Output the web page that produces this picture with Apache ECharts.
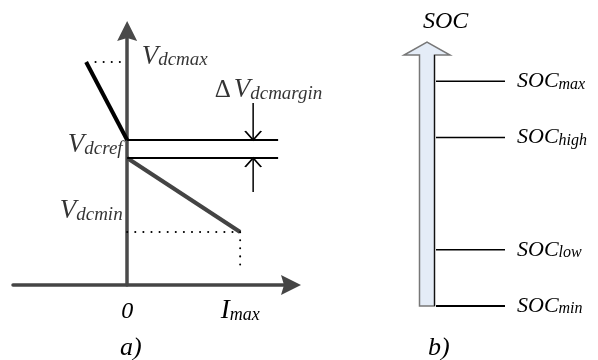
<!DOCTYPE html>
<html><head><meta charset="utf-8">
<script src="https://cdn.jsdelivr.net/npm/echarts@6/dist/echarts.min.js"></script>
<style>html,body{margin:0;padding:0;background:#fff}#c{width:598px;height:360px}</style>
</head><body><div id="c"></div>
<script>
// ---- Panel a) droop characteristic (x: current, normalised to Imax; y: DC voltage, normalised to Vdcref)
const V_DCMAX = 1.756;
const V_MARGIN_TOP = 1.142;      // Vdcref + ΔVdcmargin
const V_DCREF = 1.0;
const V_DCMIN = 0.417;
const I_MAX = 1.0;
const I_AT_VDCMAX = -0.363;
const DOT_START_X = -0.28;
const REF_LINE_END_X = 1.336;
const DIM_X = 1.115;
const DIM_TOP = 1.433;
const DIM_BOTTOM = 0.732;
const IMAX_DOT_BOTTOM = 0.10;
const xTickValues = [0, 1];
const xTickLabels = ['{z|0}', '{v|I}{s|max}'];
// ---- Panel b) SOC levels (scale is schematic)
const socNames = ['max', 'high', 'low', 'min'];
const socValues = [90, 70, 30, 10];
const SOC_AXIS_BOTTOM = 10;
const SOC_AXIS_TOP = 104;

const SERIF = '"Liberation Serif", "DejaVu Serif", serif';
const ARROW = 'path://M10,0L20,20L10,17L0,20Z';
const richA = {
  v: {fontFamily: SERIF, fontStyle: 'italic', fontSize: 27, lineHeight: 27, verticalAlign: 'bottom', color: '#000'},
  d: {fontFamily: SERIF, fontSize: 25, lineHeight: 27, verticalAlign: 'bottom', color: '#000', padding: [0, 3, 0, 0]},
  s2: {fontFamily: SERIF, fontStyle: 'italic', fontSize: 19, lineHeight: 18, verticalAlign: 'bottom', color: '#000'},
  s4: {fontFamily: SERIF, fontStyle: 'italic', fontSize: 19, lineHeight: 14, verticalAlign: 'bottom', color: '#000'},
  s9: {fontFamily: SERIF, fontStyle: 'italic', fontSize: 19, lineHeight: 5, verticalAlign: 'bottom', color: '#000'},
  s: {fontFamily: SERIF, fontStyle: 'italic', fontSize: 18, lineHeight: 16, verticalAlign: 'bottom', color: '#000'},
  z: {fontFamily: SERIF, fontStyle: 'italic', fontSize: 24, lineHeight: 27, verticalAlign: 'bottom', color: '#000'}
};
const richB = {
  v: {fontFamily: SERIF, fontStyle: 'italic', fontSize: 22, lineHeight: 22, verticalAlign: 'bottom', fill: '#000'},
  s: {fontFamily: SERIF, fontStyle: 'italic', fontSize: 16, lineHeight: 16, verticalAlign: 'bottom', fill: '#000'}
};

function seg(points, color, width, type) {
  return {
    type: 'line', xAxisIndex: 0, yAxisIndex: 0, data: points, symbol: 'none', silent: true,
    lineStyle: {color: color, width: width, type: type || 'solid', cap: type ? 'round' : 'butt'}, z: 3
  };
}
function dimArrow(from, to, pointsDown) {
  return {
    type: 'line', xAxisIndex: 0, yAxisIndex: 0, symbol: 'none', silent: true,
    lineStyle: {color: '#000', width: 1.5},
    data: [from, {
      value: to,
      symbol: pointsDown ? 'path://M0,0L8,8L16,0' : 'path://M0,8L8,0L16,8',
      symbolSize: [16, 9],
      symbolOffset: [0, pointsDown ? -4.5 : 4.5],
      itemStyle: {color: 'rgba(0,0,0,0)', borderColor: '#000', borderWidth: 1.5}
    }]
  };
}

const chart = echarts.init(document.getElementById('c'), null, {renderer: 'canvas'});
chart.setOption({
  animation: false,
  backgroundColor: '#fff',
  title: [
    {text: 'a)', left: 115, top: 330, textStyle: {fontFamily: SERIF, fontStyle: 'italic', fontWeight: 'normal', fontSize: 26, color: '#000'}},
    {text: 'b)', left: 423, top: 330, textStyle: {fontFamily: SERIF, fontStyle: 'italic', fontWeight: 'normal', fontSize: 26, color: '#000'}},
    {text: 'SOC', left: 418, top: 5, textStyle: {fontFamily: SERIF, fontStyle: 'italic', fontWeight: 'normal', fontSize: 24, color: '#000'}}
  ],
  grid: [
    {left: 13, top: 31, width: 278, height: 254},
    {left: 427, top: 42, width: 100, height: 264}
  ],
  xAxis: [
    {gridIndex: 0, type: 'value', min: -1.01, max: 1.45, splitLine: {show: false}, axisTick: {show: false},
     axisLine: {show: true, onZero: true, symbol: ['none', ARROW], symbolSize: [20, 20], lineStyle: {color: '#454545', width: 3.5}},
     axisLabel: {show: true, customValues: xTickValues, margin: 12,
       formatter: function (v) { const i = xTickValues.indexOf(v); return i >= 0 ? xTickLabels[i] : ''; },
       rich: richA}},
    {gridIndex: 1, type: 'value', min: 0, max: 1, show: false}
  ],
  yAxis: [
    {gridIndex: 0, type: 'value', min: 0, max: 2.0, splitLine: {show: false}, axisTick: {show: false}, axisLabel: {show: false},
     axisLine: {show: true, onZero: true, symbol: ['none', ARROW], symbolSize: [20, 20], lineStyle: {color: '#4a4a4a', width: 3.5}}},
    {gridIndex: 1, type: 'value', min: SOC_AXIS_BOTTOM, max: SOC_AXIS_TOP, show: false}
  ],
  series: [
    seg([[I_AT_VDCMAX, V_DCMAX], [0, V_MARGIN_TOP]], '#000', 4),
    seg([[0, V_DCREF], [I_MAX, V_DCMIN]], '#444', 4),
    seg([[0, V_MARGIN_TOP], [REF_LINE_END_X, V_MARGIN_TOP]], '#000', 2),
    seg([[0, V_DCREF], [REF_LINE_END_X, V_DCREF]], '#000', 2),
    seg([[DOT_START_X, V_DCMAX], [0, V_DCMAX]], '#000', 2, [0.1, 8]),
    seg([[0, V_DCMIN], [I_MAX, V_DCMIN]], '#000', 2, [0.1, 8]),
    seg([[I_MAX, V_DCMIN], [I_MAX, IMAX_DOT_BOTTOM]], '#000', 2, [0.1, 8]),
    dimArrow([DIM_X, DIM_TOP], [DIM_X, V_MARGIN_TOP], true),
    dimArrow([DIM_X, DIM_BOTTOM], [DIM_X, V_DCREF], false),
    {
      type: 'scatter', xAxisIndex: 0, yAxisIndex: 0, symbolSize: 1, silent: true,
      itemStyle: {color: 'rgba(0,0,0,0)'}, z: 5,
      label: {show: true, rich: richA, verticalAlign: 'middle'},
      data: [
        {value: [0, V_DCMAX], label: {position: [15, -5], align: 'left', formatter: '{v|V}{s2|dcmax}'}},
        {value: [0, V_DCREF], label: {position: [-4, -13], align: 'right', formatter: '{v|V}{s4|dcref}'}},
        {value: [0, V_DCMIN], label: {position: [-4, -21], align: 'right', formatter: '{v|V}{s9|dcmin}'}},
        {value: [DIM_X, DIM_TOP], label: {position: [-38, -13], align: 'left', formatter: '{d|Δ}{v|V}{s4|dcmargin}'}}
      ]
    },
    {
      type: 'custom', xAxisIndex: 1, yAxisIndex: 1, silent: true, z: 2,
      data: [[0, SOC_AXIS_BOTTOM, SOC_AXIS_TOP]],
      renderItem: function (params, api) {
        const b = api.coord([api.value(0), api.value(1)]);
        const t = api.coord([api.value(0), api.value(2)]);
        const cx = b[0], hw = 7.5, hh = 23, hH = 13;
        return {
          type: 'group', children: [
            {type: 'polygon', shape: {points: [
              [cx - hw, b[1]], [cx - hw, t[1] + hH], [cx - hh, t[1] + hH], [cx, t[1]],
              [cx + hh, t[1] + hH], [cx + hw, t[1] + hH], [cx + hw, b[1]]]},
             style: {fill: '#e4ecf7', stroke: '#777', lineWidth: 1.5}},
            {type: 'line', shape: {x1: cx + hw, y1: t[1] + hH, x2: cx + hw, y2: b[1]},
             style: {stroke: '#111', lineWidth: 1.2}}
          ]
        };
      }
    },
    {
      type: 'custom', xAxisIndex: 1, yAxisIndex: 1, silent: true, z: 3,
      data: socValues.map(function (v, i) { return [0, v, i]; }),
      renderItem: function (params, api) {
        const p = api.coord([api.value(0), api.value(1)]);
        const name = socNames[api.value(2)];
        return {
          type: 'group', children: [
            {type: 'line', shape: {x1: p[0] + 9, y1: p[1], x2: p[0] + 78, y2: p[1]},
             style: {stroke: '#000', lineWidth: name === 'min' ? 2 : 1.5}},
            {type: 'text', style: {text: '{v|SOC}{s|' + name + '}', x: p[0] + 90, y: p[1],
              align: 'left', verticalAlign: 'middle', rich: richB}}
          ]
        };
      }
    }
  ]
});
</script>
</body></html>
